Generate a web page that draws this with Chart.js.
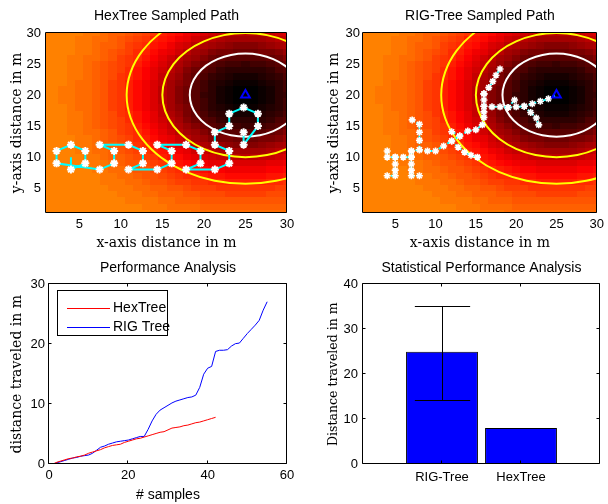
<!DOCTYPE html>
<html>
<head>
<meta charset="utf-8">
<script src="https://cdn.jsdelivr.net/npm/chart.js@4.4.1/dist/chart.umd.min.js"></script>
<style>
  body { margin: 0; background: #fff; }
  #root { position: relative; width: 608px; height: 504px; }
  #root canvas { position: absolute; }
</style>
</head>
<body>
<div id="root">
  <canvas id="hexMap" width="304" height="252" style="left:0;top:0"></canvas>
  <canvas id="rigMap" width="304" height="252" style="left:304px;top:0"></canvas>
  <canvas id="perfPlot" width="304" height="252" style="left:0;top:252px"></canvas>
  <canvas id="statPlot" width="304" height="252" style="left:304px;top:252px"></canvas>
</div>
<script>
// ---------- sampled field (both top maps) ----------
// one string per row, top row is y=30, bottom row y=1; one char per cell x=1..30
// char is the shade level in base 36 (0 = black peak, z = orange)
const fieldRows = [
  "zzzzzyyxwwvutsqpomlkjiihhhiijk",
  "zzzzyyxxwvutsqpomljihgfffffghi",
  "zzzzyyxwwvtsrpomkjhgfedcccdefg",
  "zzzzyyxwvutrqomljhfecbbaaabbce",
  "zzzyyxxwvtsrpnljhfeca9888889ac",
  "zzzyyxwvutsqomkigeca876656678a",
  "zzzyyxwvutrpnljhfca87544444578",
  "zzzyyxwvusrpnligeb975432223457",
  "zzzyxxwvtsqomkifdb864321112346",
  "zzyyxxwvtsqomkhfca864210001246",
  "zzyyxxwvtsqomkhfca854210001245",
  "zzyyxxwvtsqomkhfca864210001246",
  "zzzyxxwvtsqomkifdb864321112346",
  "zzzyyxwvusrpnligeb975432223457",
  "zzzyyxwvutrpnljhfca87544444578",
  "zzzyyxwvutsqomkigeca876656678a",
  "zzzyyxxwvtsrpnljhfeca9888889ac",
  "zzzzyyxwvutrqomljhfecbbaaabbce",
  "zzzzyyxwwvtsrpomkjhgfedcccdefg",
  "zzzzyyxxwvutsqpomljihgfffffghi",
  "zzzzzyyxwwvutsqpomlkjiihhhiijk",
  "zzzzzyyyxwvvutsqponmllkkkkkllm",
  "zzzzzzyyxxwvvutsrqponnmmmmmnno",
  "zzzzzzzyyxxwvvutsrrqppoooooppq",
  "zzzzzzzyyyxxwvvuttssrrqqqqqrrs",
  "zzzzzzzzyyyxxwwvvutttssssssstt",
  "zzzzzzzzzyyyxxwwwvvuuutttttuuu",
  "zzzzzzzzzzyyyyxxwwwvvvvvvvvvvv",
  "zzzzzzzzzzzzyyyxxxxwwwwwwwwwww",
  "zzzzzzzzzzzzzyyyyyxxxxxxxxxxxx"
];
const fieldLeft = 1;
const fieldTop = 30;

// contour lines
const whiteRingX = [31.7, 31.47, 30.8, 29.74, 28.35, 26.74, 25, 23.26, 21.65, 20.26, 19.2, 18.53, 18.3, 18.53, 19.2, 20.26, 21.65, 23.26, 25, 26.74, 28.35, 29.74, 30.8, 31.47, 31.7];
const whiteRingY = [20, 21.74, 23.35, 24.74, 25.8, 26.47, 26.7, 26.47, 25.8, 24.74, 23.35, 21.74, 20, 18.26, 16.65, 15.26, 14.2, 13.53, 13.3, 13.53, 14.2, 15.26, 16.65, 18.26, 20];
const innerYellowX = [35, 34.66, 33.66, 32.07, 30, 27.59, 25, 22.41, 20, 17.93, 16.34, 15.34, 15, 15.34, 16.34, 17.93, 20, 22.41, 25, 27.59, 30, 32.07, 33.66, 34.66, 35];
const innerYellowY = [20, 22.59, 25, 27.07, 28.66, 29.66, 30, 29.66, 28.66, 27.07, 25, 22.59, 20, 17.41, 15, 12.93, 11.34, 10.34, 10, 10.34, 11.34, 12.93, 15, 17.41, 20];
const outerYellowX = [39.3, 38.81, 37.38, 35.11, 32.15, 28.7, 25, 21.3, 17.85, 14.89, 12.62, 11.19, 10.7, 11.19, 12.62, 14.89, 17.85, 21.3, 25, 28.7, 32.15, 35.11, 37.38, 38.81, 39.3];
const outerYellowY = [20, 23.7, 27.15, 30.11, 32.38, 33.81, 34.3, 33.81, 32.38, 30.11, 27.15, 23.7, 20, 16.3, 12.85, 9.89, 7.62, 6.19, 5.7, 6.19, 7.62, 9.89, 12.85, 16.3, 20];

const targetX = [25];
const targetY = [20];
const mapTicks = [5, 10, 15, 20, 25, 30];

// HexTree walk (first point is the start, no marker)
const hexPathX = [4, 4, 5.73, 5.73, 4, 2.27, 2.27, 7.46, 9.2, 9.2, 7.46, 10.93, 12.66, 12.66, 10.93, 14.39, 16.12, 16.12, 14.39, 17.86, 19.59, 19.59, 17.86, 21.32, 23.05, 23.05, 21.32, 21.32, 23.05, 23.05, 24.78, 26.5, 26.5, 24.78, 24.78];
const hexPathY = [10, 8, 9, 11, 12, 11, 9, 8, 9, 11, 12, 12, 11, 9, 8, 8, 9, 11, 12, 12, 11, 9, 8, 8, 9, 11, 12, 14, 15, 17, 18, 17, 15, 12, 14];

// RIG-Tree branches
const rigBranchX = [
  [4, 4, 5, 6, 7],
  [5, 5, 5, 5, 4],
  [7, 7, 7, 7, 7, 8],
  [7.1, 8, 8, 8, 8, 7],
  [8, 9, 10, 11, 12, 13, 14, 15, 15.8, 16, 16, 16, 16, 16],
  [16, 16.6, 17.1, 17.5, 18],
  [16, 17, 18, 19, 20, 21, 22, 23, 24, 25],
  [19, 19.8],
  [21, 21.8, 22.5, 22.8],
  [12, 12.8, 13.6, 14.4, 15.2],
  [13, 12]
];
const rigBranchY = [
  [11, 10, 10, 10, 10],
  [10, 8.9, 7.9, 7, 7],
  [11, 10, 8.9, 7.9, 7, 7],
  [16, 15.3, 14, 12.7, 11.2, 11],
  [11.2, 11, 11, 11.8, 12.6, 13.4, 14.2, 14.4, 15.2, 16.4, 17.3, 18.2, 19.2, 20.2],
  [20.2, 21.2, 22.2, 23.2, 24.2],
  [18.2, 18.1, 18.1, 18, 18.1, 18.2, 18.6, 19, 19.4, 20],
  [18, 19.2],
  [18.2, 17.2, 16.3, 15.2],
  [12.6, 11.6, 10.8, 10.3, 10],
  [13.4, 14.1]
];

// ---------- performance analysis (distance per sample, sample 1..N) ----------
const hexDistance = [0, 0.3, 0.5, 0.7, 0.9, 1.0, 1.2, 1.3, 1.5, 1.8, 2.0, 2.2, 2.4, 2.7, 2.9, 3.1, 3.2, 3.3, 3.6, 3.8,
  4.0, 4.2, 4.3, 4.5, 4.7, 4.9, 5.1, 5.3, 5.4, 5.7, 6.0, 6.1, 6.2, 6.4, 6.5, 6.7, 6.9, 7.0, 7.2, 7.4, 7.6, 7.8];
const rigDistance = [0, 0.2, 0.4, 0.6, 0.8, 1.0, 1.1, 1.3, 1.4, 1.5, 1.8, 2.3, 2.8, 3.0, 3.3, 3.5, 3.7, 3.8, 3.9, 4.0,
  4.2, 4.4, 4.6, 4.6, 5.8, 7.2, 8.3, 9.0, 9.4, 9.8, 10.2, 10.5, 10.7, 10.9, 11.1, 11.2, 11.5, 12.8, 15.0, 16.0,
  16.3, 18.8, 19.0, 19.0, 19.1, 19.7, 20.1, 20.2, 21.0, 21.8, 22.5, 23.2, 24.0, 25.7, 27.1];
const sampleTicks = [0, 20, 40, 60];
const distanceTicks = [0, 10, 20, 30];

// ---------- statistical analysis ----------
const barLabels = ['RIG-Tree', 'HexTree'];
const barMeans = [25, 8];
const errLow = [14.3, null];
const errHigh = [35.2, null];
const barTicks = [0, 10, 20, 30, 40];

// ---------- styling ----------
const sansFamily = "'Liberation Sans', Arial, sans-serif";
const serifFamily = "'DejaVu Serif', serif";
const tickFont = { family: sansFamily, size: 13 };
const titleFont = { family: sansFamily, size: 14, weight: 'normal' };
const serifFont = { family: serifFamily, size: 14, weight: 'normal' };
const cyan = '#00ffff';

Chart.defaults.color = '#000';
Chart.defaults.font.family = sansFamily;

function pts(xs, ys) {
  return xs.map((x, i) => ({ x: x, y: ys[i] }));
}

// matlab 'hot' colormap
function hotColour(level) {
  const t = level / 62;
  const clamp = v => Math.max(0, Math.min(1, v));
  const r = clamp(t / 0.375), g = clamp((t - 0.375) / 0.375), b = clamp((t - 0.75) / 0.25);
  return 'rgb(' + Math.round(r * 255) + ',' + Math.round(g * 255) + ',' + Math.round(b * 255) + ')';
}

const heatPlugin = {
  id: 'heatField',
  beforeDatasetsDraw(chart) {
    const { ctx, chartArea: a, scales } = chart;
    ctx.save();
    ctx.beginPath();
    ctx.rect(a.left, a.top, a.width, a.height);
    ctx.clip();
    fieldRows.forEach((row, i) => {
      const yv = fieldTop - i;
      const y0 = Math.round(scales.y.getPixelForValue(yv + 0.5));
      const y1 = Math.round(scales.y.getPixelForValue(yv - 0.5));
      for (let j = 0; j < row.length; j++) {
        const xv = fieldLeft + j;
        const x0 = Math.round(scales.x.getPixelForValue(xv - 0.5));
        const x1 = Math.round(scales.x.getPixelForValue(xv + 0.5));
        ctx.fillStyle = hotColour(parseInt(row[j], 36));
        ctx.fillRect(x0, y0, x1 - x0, y1 - y0);
      }
    });
    ctx.restore();
  }
};

// axes box plus small inward ticks on every side
const boxPlugin = {
  id: 'matlabBox',
  afterDatasetsDraw(chart, args, opts) {
    const { ctx, chartArea: a, scales } = chart;
    const len = opts.tickLen || 0;
    const l = Math.round(a.left) - 0.5, r = Math.round(a.right) - 0.5;
    const t = Math.round(a.top) - 0.5, b = Math.round(a.bottom) - 0.5;
    ctx.save();
    ctx.strokeStyle = '#000';
    ctx.lineWidth = 1;
    ctx.beginPath();
    ctx.rect(l, t, r - l, b - t);
    if (len > 0) {
      scales.x.ticks.forEach(tk => {
        const px = Math.round(scales.x.getPixelForValue(tk.value)) - 0.5;
        ctx.moveTo(px, b); ctx.lineTo(px, b - len);
        ctx.moveTo(px, t); ctx.lineTo(px, t + len);
      });
      scales.y.ticks.forEach(tk => {
        const py = Math.round(scales.y.getPixelForValue(tk.value)) - 0.5;
        ctx.moveTo(l, py); ctx.lineTo(l + len, py);
        ctx.moveTo(r, py); ctx.lineTo(r - len, py);
      });
    }
    ctx.stroke();
    ctx.restore();
  }
};

const legendPlugin = {
  id: 'insetLegend',
  afterDatasetsDraw(chart, args, opts) {
    if (!opts.show) return;
    const { ctx, chartArea: a } = chart;
    const x = Math.round(a.left) + opts.dx, y = Math.round(a.top) + opts.dy;
    ctx.save();
    ctx.fillStyle = '#fff';
    ctx.fillRect(x, y, opts.w, opts.h);
    ctx.strokeStyle = '#000';
    ctx.lineWidth = 1;
    ctx.strokeRect(x + 0.5, y + 0.5, opts.w, opts.h);
    ctx.font = '14px ' + sansFamily;
    ctx.textBaseline = 'middle';
    chart.data.datasets.forEach((ds, i) => {
      const ly = y + opts.rows[i] + 0.5;
      ctx.strokeStyle = ds.borderColor;
      ctx.beginPath();
      ctx.moveTo(x + 10, ly);
      ctx.lineTo(x + 53, ly);
      ctx.stroke();
      ctx.fillStyle = '#000';
      ctx.fillText(ds.label, x + 56, ly);
    });
    ctx.restore();
  }
};

const errorBarPlugin = {
  id: 'errorBars',
  afterDatasetsDraw(chart, args, opts) {
    if (!opts.show) return;
    const { ctx, scales } = chart;
    const meta = chart.getDatasetMeta(0);
    ctx.save();
    ctx.strokeStyle = '#000';
    ctx.lineWidth = 1;
    meta.data.forEach((bar, i) => {
      if (errLow[i] == null) return;
      const cx = Math.round(bar.x) + 0.5;
      const half = scales.x.getPixelForValue(i + 1 + opts.capHalf) - scales.x.getPixelForValue(i + 1);
      const lo = Math.round(scales.y.getPixelForValue(errLow[i])) + 0.5;
      const hi = Math.round(scales.y.getPixelForValue(errHigh[i])) + 0.5;
      ctx.beginPath();
      ctx.moveTo(cx, lo); ctx.lineTo(cx, hi);
      ctx.moveTo(cx - half, lo); ctx.lineTo(cx + half, lo);
      ctx.moveTo(cx - half, hi); ctx.lineTo(cx + half, hi);
      ctx.stroke();
    });
    ctx.restore();
  }
};

function axisOptions(min, max, tickValues, isX, fitSize, titleText, font, titlePad, tickPad) {
  return {
    type: 'linear',
    min: min,
    max: max,
    offset: false,
    afterBuildTicks: s => { s.ticks = tickValues.map(v => ({ value: v })); },
    afterFit: s => { if (isX) s.height = fitSize; else s.width = fitSize; },
    grid: { display: false, drawTicks: false },
    border: { display: false },
    ticks: { font: tickFont, padding: tickPad, maxRotation: 0, autoSkip: false, color: '#000' },
    title: { display: true, text: titleText, font: font, color: '#000', padding: titlePad }
  };
}

function plotTitle(text, bottomPad) {
  return { display: true, fullSize: false, text: text, font: titleFont, color: '#000', padding: { top: 7.6, bottom: bottomPad } };
}

function markerRadius(ctx) {
  const p = ctx.raw;
  if (p && p.x === targetX[0] && p.y === targetY[0]) return 0;
  return 3.5;
}

function contourSets() {
  const ring = (xs, ys, colour) => ({
    data: pts(xs, ys), showLine: true, borderColor: colour, borderWidth: 2,
    pointRadius: 0, tension: 0.4, order: 3
  });
  return [
    ring(outerYellowX, outerYellowY, '#ffff00'),
    ring(innerYellowX, innerYellowY, '#ffff00'),
    ring(whiteRingX, whiteRingY, '#ffffff')
  ];
}

function targetSet() {
  return {
    data: pts(targetX, targetY), pointStyle: 'triangle', pointRadius: 5,
    pointBorderColor: '#0000ff', pointBackgroundColor: 'rgba(0,0,0,0)', pointBorderWidth: 2, order: 0
  };
}

function mapChart(canvasId, titleText, pathSets, yFit, yTitlePad, rightPad, yTickPad) {
  return new Chart(document.getElementById(canvasId), {
    type: 'scatter',
    data: { datasets: [targetSet()].concat(pathSets, contourSets()) },
    options: {
      responsive: false, animation: false, events: [],
      layout: { padding: { left: 0, top: 0, right: rightPad, bottom: 0 } },
      plugins: {
        legend: { display: false },
        tooltip: { enabled: false },
        title: plotTitle(titleText, 8.6),
        matlabBox: { tickLen: 0 }
      },
      scales: {
        x: axisOptions(1, 30, mapTicks, true, 39, 'x-axis distance in m', serifFont, { top: 0, bottom: 0 }, 4),
        y: axisOptions(1, 30, mapTicks, false, yFit, 'y-axis distance in m', serifFont, { top: yTitlePad, bottom: 0 }, yTickPad)
      }
    },
    plugins: [heatPlugin, boxPlugin]
  });
}

// HexTree map
const hexSets = [{
  data: pts(hexPathX, hexPathY), showLine: true, borderColor: cyan, borderWidth: 2,
  pointStyle: 'star', pointRadius: ctx => (ctx.dataIndex === 0 ? 0 : 4),
  pointBorderColor: '#fff', pointBackgroundColor: '#fff', pointBorderWidth: 2, order: 1
}];
mapChart('hexMap', 'HexTree Sampled Path', hexSets, 46, 8.6, 17, 5);

// RIG-Tree map
const rigSets = rigBranchX.map((xs, b) => ({
  data: pts(xs, rigBranchY[b]), showLine: true, borderColor: cyan, borderWidth: 2, borderDash: [3, 2],
  pointStyle: 'star', pointRadius: markerRadius,
  pointBorderColor: '#fff', pointBackgroundColor: '#fff', pointBorderWidth: 1.6, order: 1
}));
mapChart('rigMap', 'RIG-Tree Sampled Path', rigSets, 59, 21.6, 7, 3);

// Performance Analysis
new Chart(document.getElementById('perfPlot'), {
  type: 'scatter',
  data: {
    datasets: [
      { label: 'HexTree', data: hexDistance.map((d, i) => ({ x: i + 1, y: d })), showLine: true,
        borderColor: '#ff0000', borderWidth: 1, pointRadius: 0 },
      { label: 'RIG Tree', data: rigDistance.map((d, i) => ({ x: i + 1, y: d })), showLine: true,
        borderColor: '#0000ff', borderWidth: 1, pointRadius: 0 }
    ]
  },
  options: {
    responsive: false, animation: false, events: [],
    layout: { padding: { left: 0, top: 0, right: 17, bottom: 0 } },
    plugins: {
      legend: { display: false },
      tooltip: { enabled: false },
      title: plotTitle('Performance Analysis', 8),
      matlabBox: { tickLen: 3 },
      insetLegend: { show: true, dx: 8, dy: 6, w: 110, h: 45, rows: [18, 37] }
    },
    scales: {
      x: axisOptions(0, 60, sampleTicks, true, 40, '# samples', titleFont, { top: 0, bottom: 0 }, 4),
      y: axisOptions(0, 30, distanceTicks, false, 49, 'distance traveled in m', serifFont, { top: 8.6, bottom: 0 }, 4)
    }
  },
  plugins: [boxPlugin, legendPlugin]
});

// Statistical Performance Analysis
new Chart(document.getElementById('statPlot'), {
  type: 'bar',
  data: {
    datasets: [{
      data: barMeans.map((v, i) => ({ x: i + 1, y: v })),
      backgroundColor: '#0000ff', borderColor: '#000', borderWidth: 1, borderSkipped: false,
      barPercentage: 0.91, categoryPercentage: 1
    }]
  },
  options: {
    responsive: false, animation: false, events: [],
    layout: { padding: { left: 0, top: 0, right: 8, bottom: 0 } },
    plugins: {
      legend: { display: false },
      tooltip: { enabled: false },
      title: plotTitle('Statistical Performance Analysis', 8),
      matlabBox: { tickLen: 3 },
      errorBars: { show: true, capHalf: 0.35 }
    },
    scales: {
      x: Object.assign(axisOptions(0, 3, [1, 2], true, 40, '', titleFont, { top: 0, bottom: 0 }, 6), {
        title: { display: false },
        ticks: { font: tickFont, padding: 6, maxRotation: 0, autoSkip: false, color: '#000', callback: v => barLabels[v - 1] }
      }),
      y: axisOptions(0, 40, barTicks, false, 59, 'Distance traveled in m', { family: serifFamily, size: 12.5, weight: 'normal' }, { top: 22.5, bottom: 0 }, 5)
    }
  },
  plugins: [boxPlugin, errorBarPlugin]
});
</script>
</body>
</html>
